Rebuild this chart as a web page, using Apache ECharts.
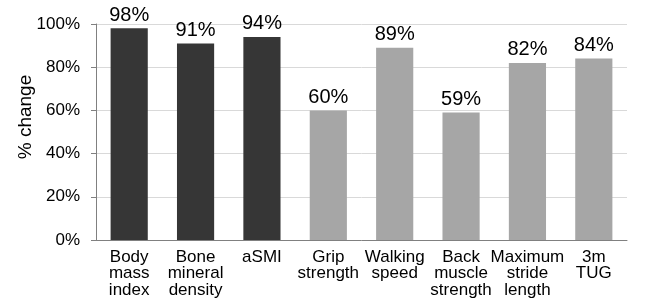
<!DOCTYPE html>
<html>
<head>
<meta charset="utf-8">
<script src="https://cdn.jsdelivr.net/npm/echarts@6/dist/echarts.min.js"></script>
<style>
html, body { margin: 0; padding: 0; background: #fff; }
#chart { width: 647px; height: 302px; }
</style>
</head>
<body>
<div id="chart"></div>
<script>
// 分类和数值
var categories = ['Body\nmass\nindex', 'Bone\nmineral\ndensity', 'aSMI', 'Grip\nstrength',
	'Walking\nspeed', 'Back\nmuscle\nstrength', 'Maximum\nstride\nlength', '3m\nTUG'];
var values = [98, 91, 94, 60, 89, 59, 82, 84];
var darkCount = 3; // 前三个为深色
var yTicks = [0, 20, 40, 60, 80, 100];

var myChart = echarts.init(document.getElementById('chart'));

var barData = values.map(function(v, i) {
	return {
		value: v,
		itemStyle: { color: i < darkCount ? '#363636' : '#a6a6a6' }
	};
});

myChart.setOption({
	animation: false,
	textStyle: { fontFamily: 'Liberation Sans, Arial, sans-serif' },
	grid: {
		left: 96,
		right: 20,
		top: 24,
		bottom: 62
	},
	xAxis: {
		type: 'category',
		data: categories,
		axisTick: { show: false },
		axisLine: { lineStyle: { color: '#808080', width: 1 } },
		axisLabel: {
			color: '#000',
			fontSize: 17,
			lineHeight: 16.5,
			margin: 9,
			interval: 0
		}
	},
	yAxis: {
		type: 'value',
		min: yTicks[0],
		max: yTicks[yTicks.length - 1],
		interval: 20,
		name: '% change',
		nameLocation: 'middle',
		nameGap: 61,
		nameRotate: 90,
		nameMoveOverlap: false,
		nameTextStyle: { color: '#000', fontSize: 19, padding: [0, 0, 0, 30] },
		axisLine: { show: true, lineStyle: { color: '#808080', width: 1 } },
		axisTick: { show: true, length: 5, lineStyle: { color: '#808080' } },
		axisLabel: {
			color: '#000',
			fontSize: 17,
			margin: 16,
			formatter: '{value}%'
		},
		splitLine: { lineStyle: { color: '#d9d9d9', width: 1 } }
	},
	series: [{
		type: 'bar',
		data: barData,
		barWidth: '56%',
		label: {
			show: true,
			position: 'top',
			distance: 3,
			color: '#000',
			fontSize: 20,
			formatter: '{c}%'
		}
	}]
});
</script>
</body>
</html>
